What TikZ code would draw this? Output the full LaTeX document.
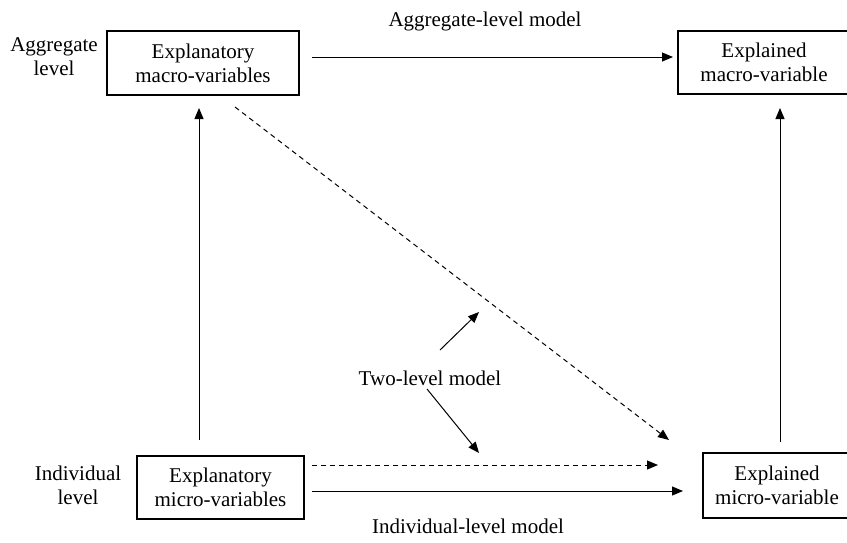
\documentclass[tikz,border=0pt]{standalone}
\usepackage{fontspec}
\setmainfont{Liberation Serif}
\usetikzlibrary{arrows.meta}
\begin{document}
\begin{tikzpicture}[x=1pt,y=-1pt,
  every node/.style={font=\fontsize{21}{24}\selectfont, align=center, inner sep=0pt},
  box/.style={draw, line width=1.1pt},
  arr/.style={line width=1pt, -{Triangle[length=11pt,width=9pt]}},
  darr/.style={arr, dash pattern=on 5pt off 4pt}]
\useasboundingbox (0,0) rectangle (847,542);
\node[box, minimum width=192, minimum height=64] (b1) at (203,63) {Explanatory\\macro-variables};
\node[box, minimum width=172, minimum height=63] (b2) at (764,62.5) {Explained\\macro-variable};
\node[box, minimum width=167, minimum height=63] (b3) at (220.5,487.5) {Explanatory\\micro-variables};
\node[box, minimum width=148, minimum height=65] (b4) at (777,485.5) {Explained\\micro-variable};
\node (al) at (54,57) {Aggregate\\level};
\node (il) at (78,485) {Individual\\level};
\node (am) at (485,21) {Aggregate-level model};
\node (im) at (468,526) {Individual-level model};
\node (tl) at (430,378) {Two-level model};
% connectors
\coordinate (t1) at (312,57); \coordinate (t2) at (673,57);
\draw[arr] (t1) -- (t2);
\coordinate (l1) at (199,440); \coordinate (l2) at (199,108);
\draw[arr] (l1) -- (l2);
\coordinate (r1) at (780,442); \coordinate (r2) at (780,108);
\draw[arr] (r1) -- (r2);
\coordinate (d1) at (235,107); \coordinate (d2) at (669,440);
\draw[darr] (d1) -- (d2);
\coordinate (h1) at (312,465); \coordinate (h2) at (658,465);
\draw[darr] (h1) -- (h2);
\coordinate (s1) at (312,491); \coordinate (s2) at (683,491);
\draw[arr] (s1) -- (s2);
\coordinate (u1) at (440,350); \coordinate (u2) at (479,312);
\draw[arr] (u1) -- (u2);
\coordinate (w1) at (427,389); \coordinate (w2) at (479,453);
\draw[arr] (w1) -- (w2);
\end{tikzpicture}
\end{document}
